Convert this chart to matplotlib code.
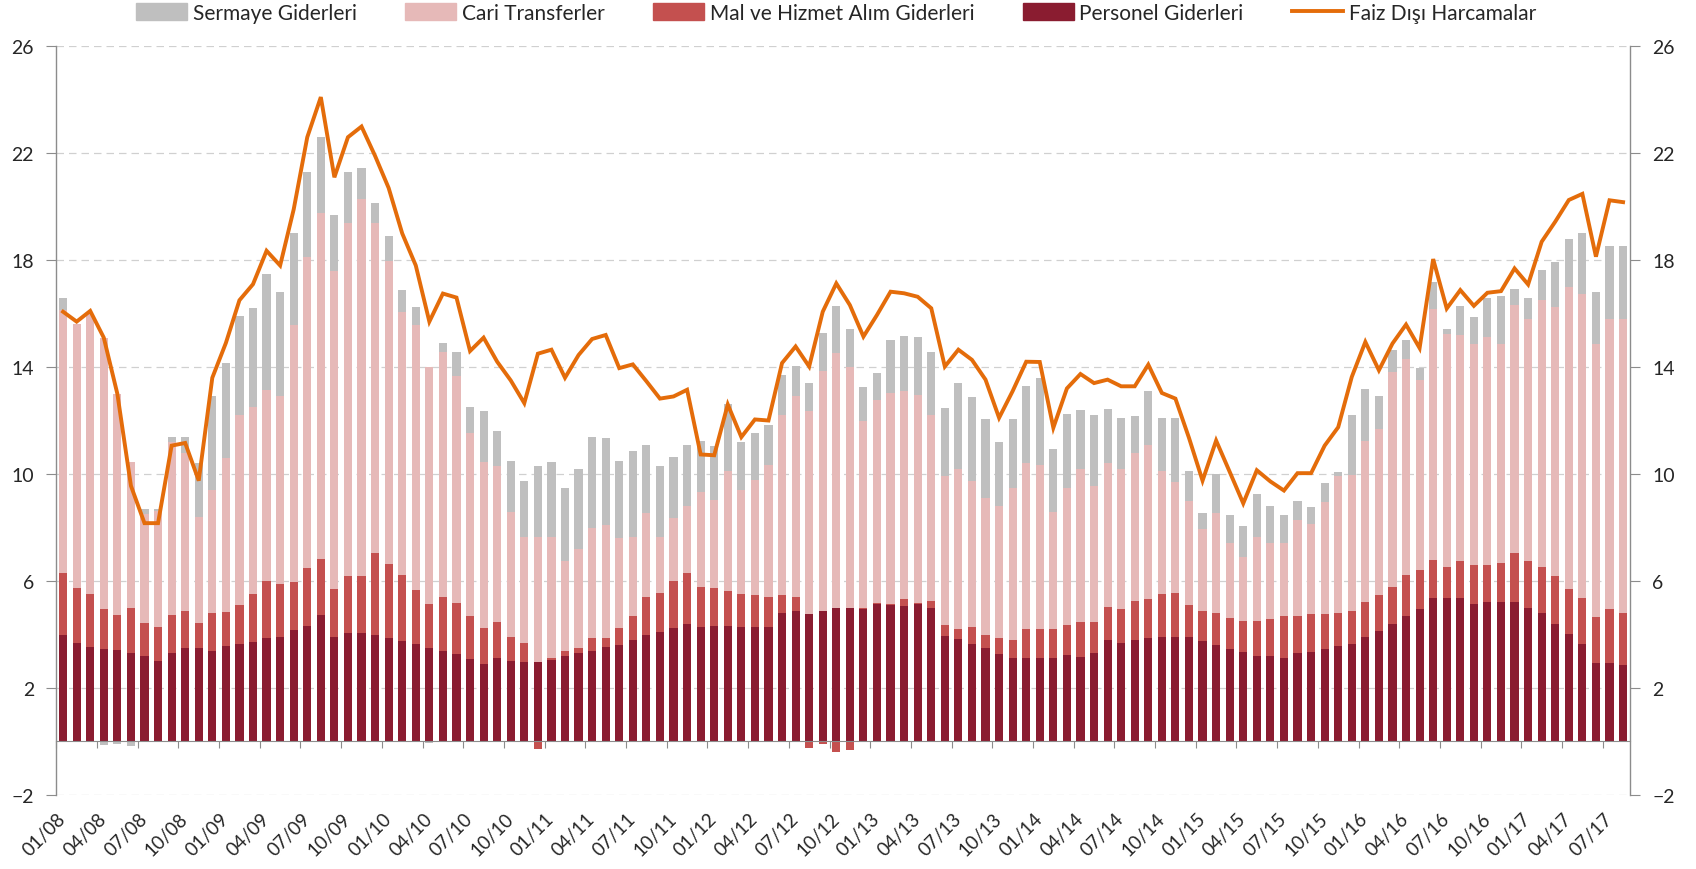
import numpy as np
import matplotlib.pyplot as plt
from matplotlib.patches import Patch
from matplotlib.lines import Line2D

plt.rcParams['font.family'] = ['Lato', 'DejaVu Sans']

# aylik veriler, 01/08 - 08/17 (GSYH'ye oran, 12 aylik)
personel = [3.98, 3.69, 3.51, 3.45, 3.40, 3.29, 3.19, 3.01, 3.31, 3.48,
            3.48, 3.39, 3.58, 3.64, 3.70, 3.88, 3.91, 4.15, 4.33, 4.71,
            3.91, 4.04, 4.04, 3.96, 3.86, 3.76, 3.63, 3.48, 3.39, 3.26,
            3.06, 2.88, 3.13, 3.01, 2.95, 2.95, 3.04, 3.20, 3.29, 3.39,
            3.51, 3.60, 3.79, 3.98, 4.08, 4.25, 4.38, 4.29, 4.33, 4.33,
            4.29, 4.29, 4.29, 4.81, 4.89, 4.76, 4.89, 4.98, 4.98, 4.95,
            5.14, 5.10, 5.06, 5.14, 5.00, 3.95, 3.81, 3.63, 3.48, 3.25,
            3.13, 3.13, 3.13, 3.13, 3.23, 3.16, 3.29, 3.79, 3.69, 3.79,
            3.85, 3.91, 3.91, 3.91, 3.75, 3.60, 3.45, 3.35, 3.19, 3.19,
            3.13, 3.29, 3.35, 3.44, 3.55, 3.65, 3.90, 4.13, 4.40, 4.69,
            4.96, 5.37, 5.37, 5.37, 5.15, 5.21, 5.21, 5.21, 4.99, 4.78,
            4.40, 4.03, 3.63, 2.93, 2.93, 2.84]

mal_hizmet = [2.33, 2.04, 2.00, 1.49, 1.33, 1.69, 1.25, 1.28, 1.42, 1.40,
              0.96, 1.40, 1.27, 1.46, 1.81, 2.10, 1.98, 1.80, 2.15, 2.10,
              1.78, 2.15, 2.15, 3.10, 2.78, 2.47, 2.03, 1.65, 2.00, 1.90,
              1.64, 1.37, 1.35, 0.90, 0.74, -0.28, 0.06, 0.19, 0.21, 0.48,
              0.34, 0.65, 0.91, 1.41, 1.48, 1.76, 1.93, 1.47, 1.40, 1.31,
              1.22, 1.19, 1.10, 0.67, 0.50, -0.24, -0.09, -0.40, -0.34, 0.03,
              0.02, 0.05, 0.25, 0.05, 0.23, 0.40, 0.39, 0.66, 0.50, 0.60,
              0.66, 1.06, 1.06, 1.06, 1.12, 1.32, 1.19, 1.25, 1.25, 1.44,
              1.46, 1.59, 1.65, 1.19, 1.14, 1.21, 1.15, 1.15, 1.31, 1.37,
              1.57, 1.41, 1.40, 1.31, 1.25, 1.21, 1.31, 1.36, 1.37, 1.54,
              1.44, 1.40, 1.15, 1.36, 1.46, 1.40, 1.46, 1.85, 1.74, 1.73,
              1.77, 1.68, 1.74, 1.70, 2.03, 1.97]

cari = [9.84, 9.87, 10.49, 10.16, 8.27, 5.46, 4.06, 4.31, 6.47, 5.92,
        3.96, 4.61, 5.75, 7.10, 6.99, 7.18, 7.01, 9.62, 11.62, 12.97,
        11.91, 13.21, 14.08, 12.34, 11.34, 9.84, 9.91, 8.87, 9.19, 8.49,
        6.85, 6.19, 5.82, 4.67, 3.97, 4.71, 4.56, 3.34, 3.70, 4.10,
        4.25, 3.35, 2.96, 3.15, 2.10, 2.34, 2.48, 3.57, 3.31, 4.46,
        3.90, 4.31, 4.96, 6.72, 7.51, 7.59, 8.95, 9.54, 9.04, 7.02,
        7.62, 7.88, 7.78, 7.78, 6.99, 5.59, 6.00, 5.44, 5.12, 4.94,
        5.69, 6.21, 6.16, 4.39, 5.13, 5.72, 5.08, 5.36, 5.26, 5.57,
        5.79, 4.62, 4.13, 3.90, 3.05, 3.73, 2.82, 2.40, 3.15, 2.86,
        2.72, 3.57, 3.37, 4.21, 5.14, 5.10, 6.04, 6.20, 8.04, 8.08,
        7.10, 9.42, 8.73, 8.46, 8.27, 8.52, 8.21, 9.25, 9.06, 9.99,
        10.08, 11.29, 11.38, 10.25, 10.85, 11.00]

sermaye = [0.45, 0.00, 0.00, -0.15, -0.12, -0.18, 0.20, 0.10, 0.20, 0.60,
           2.00, 3.50, 3.55, 3.70, 3.70, 4.34, 3.90, 3.43, 3.20, 2.82,
           2.10, 1.90, 1.18, 0.75, 0.92, 0.83, 0.68, -0.05, 0.32, 0.90,
           0.95, 1.91, 1.30, 1.92, 2.09, 2.64, 2.79, 2.73, 3.00, 3.40,
           3.25, 2.90, 3.19, 2.56, 2.64, 2.28, 2.29, 1.92, 2.01, 2.50,
           1.79, 1.75, 1.49, 1.50, 1.15, 1.05, 1.43, 1.78, 1.41, 1.25,
           1.00, 1.97, 2.09, 2.15, 2.36, 2.51, 3.20, 3.14, 2.96, 2.41,
           2.58, 2.88, 3.25, 2.34, 2.77, 2.21, 2.66, 2.03, 1.90, 1.36,
           2.02, 1.98, 2.41, 1.10, 0.59, 1.46, 1.05, 1.17, 1.60, 1.38,
           1.04, 0.73, 0.64, 0.70, 0.12, 2.25, 1.94, 1.22, 0.82, 0.72,
           0.48, 1.00, 0.16, 1.09, 1.00, 1.46, 1.77, 0.60, 0.80, 1.13,
           1.69, 1.79, 2.25, 1.93, 2.72, 2.72]

faiz_disi = [16.07, 15.70, 16.10, 15.10, 13.00, 9.56, 8.16, 8.16, 11.06, 11.16,
             9.75, 13.60, 14.90, 16.50, 17.10, 18.35, 17.80, 19.90, 22.60, 24.10,
             21.10, 22.60, 23.00, 21.90, 20.70, 19.00, 17.80, 15.70, 16.75, 16.60,
             14.60, 15.10, 14.20, 13.50, 12.65, 14.50, 14.65, 13.60, 14.45, 15.05,
             15.20, 13.96, 14.10, 13.47, 12.82, 12.90, 13.15, 10.73, 10.70, 12.60,
             11.38, 12.04, 12.00, 14.15, 14.77, 14.02, 16.07, 17.13, 16.32, 15.14,
             15.95, 16.82, 16.76, 16.63, 16.20, 14.02, 14.65, 14.27, 13.53, 12.10,
             13.10, 14.20, 14.19, 11.73, 13.20, 13.74, 13.40, 13.53, 13.28, 13.28,
             14.09, 13.03, 12.82, 11.35, 9.75, 11.25, 10.08, 8.90, 10.14, 9.72,
             9.38, 10.03, 10.03, 11.06, 11.75, 13.63, 14.94, 13.88, 14.88, 15.59,
             14.71, 18.04, 16.19, 16.88, 16.29, 16.78, 16.84, 17.69, 17.09, 18.69,
             19.44, 20.25, 20.48, 18.13, 20.24, 20.17]

etiketler = [f"{a:02d}/{y:02d}" for y in range(8, 18) for a in (1, 4, 7, 10)][:39]

renk_sermaye = '#BFBFBF'
renk_cari = '#E6B9B8'
renk_mal = '#C4504F'
renk_personel = '#8A1C30'
renk_faiz = '#E46C0A'
yazi = '#262626'

x = np.arange(len(personel))

fig = plt.figure(figsize=(16.96, 8.70), dpi=100)
ax = fig.add_axes([0.0332, 0.0854, 0.9278, 0.8602])

# yigilmis cubuklar (negatifler asagi dogru yigilir)
pos_alt = np.zeros(len(x))
neg_alt = np.zeros(len(x))
seriler = [(personel, renk_personel), (mal_hizmet, renk_mal),
           (cari, renk_cari), (sermaye, renk_sermaye)]
for deger, renk in seriler:
    d = np.array(deger)
    alt = np.where(d >= 0, pos_alt, neg_alt)
    ax.bar(x, d, bottom=alt, width=0.6, color=renk, linewidth=0, zorder=2)
    pos_alt = pos_alt + np.clip(d, 0, None)
    neg_alt = neg_alt + np.clip(d, None, 0)

ax.plot(x, faiz_disi, color=renk_faiz, lw=2.8, zorder=4, solid_joinstyle='miter')

ax.set_xlim(-0.45, len(x) - 0.5)
ax.set_ylim(-2, 26)
ax.set_yticks(np.arange(-2, 27, 4))
ax.yaxis.grid(True, color='#D0D0D0', linestyle=(0, (6, 4)), linewidth=0.9)
ax.set_axisbelow(True)

ax.spines['top'].set_visible(False)
for s in ['left', 'right']:
    ax.spines[s].set_color('#8C8C8C')
    ax.spines[s].set_linewidth(1.0)
# kategori ekseni sifirda
ax.spines['bottom'].set_position(('data', 0))
ax.spines['bottom'].set_color('#8C8C8C')
ax.spines['bottom'].set_zorder(3)
ax.set_xticks(np.arange(-0.5, len(x), 3))
ax.set_xticklabels([])
ax.tick_params(axis='x', length=5, color='#8C8C8C', direction='out')

ax.tick_params(axis='y', which='both', left=True, right=True,
               labelleft=True, labelright=True, length=7,
               color='#8C8C8C', labelsize=14, labelcolor=yazi, pad=9)

# tarih etiketleri eksenin altinda
sec = ax.secondary_xaxis(0.0)
sec.set_xticks(x[::3][:len(etiketler)])
sec.set_xticklabels(etiketler, rotation=45, ha='right', va='center',
                    rotation_mode='anchor', fontsize=13.5, color=yazi)
sec.tick_params(length=0, pad=15)
sec.spines['bottom'].set_visible(False)

tutamaclar = [Patch(color=renk_sermaye), Patch(color=renk_cari),
              Patch(color=renk_mal), Patch(color=renk_personel),
              Line2D([], [], color=renk_faiz, lw=2.8)]
adlar = ['Sermaye Giderleri', 'Cari Transferler', 'Mal ve Hizmet Alım Giderleri',
         'Personel Giderleri', 'Faiz Dışı Harcamalar']
leg = fig.legend(tutamaclar, adlar, ncol=5, loc='center',
                 bbox_to_anchor=(0.493, 0.984), frameon=False, fontsize=15,
                 handlelength=2.45, handleheight=0.85, handletextpad=0.25,
                 columnspacing=2.35)
for t in leg.get_texts():
    t.set_color(yazi)

fig.savefig('out.png', dpi=100)
